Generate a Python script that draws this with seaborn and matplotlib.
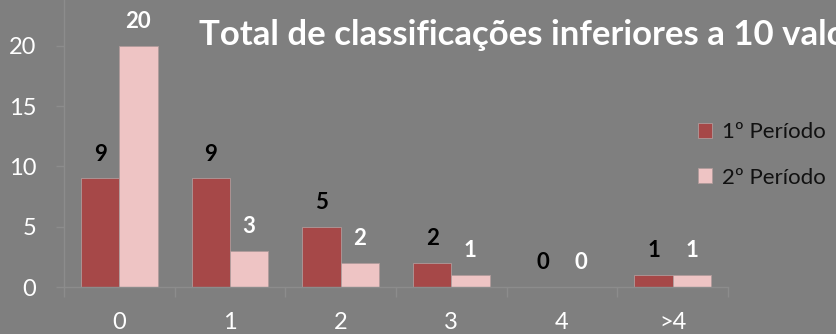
import matplotlib
matplotlib.use("Agg")
import matplotlib.pyplot as plt
import seaborn as sns
import pandas as pd
from matplotlib.ticker import FixedLocator

# Data
categorias = ["0", "1", "2", "3", "4", ">4"]
periodo_1 = [9, 9, 5, 2, 0, 1]
periodo_2 = [20, 3, 2, 1, 0, 1]
series = ["1º Período", "2º Período"]
titulo = "Total de classificações inferiores a 10 valores"

BG = "#7f7f7f"
RED = "#a64848"
PINK = "#eec4c4"
AXIS = "#8c8c8c"

df = pd.DataFrame({
    "categoria": categorias * 2,
    "valor": periodo_1 + periodo_2,
    "periodo": [series[0]] * len(categorias) + [series[1]] * len(categorias),
})

sns.set_theme(style="white")
plt.rcParams["font.family"] = ["Lato", "DejaVu Sans"]

fig = plt.figure(figsize=(8.37, 3.34), dpi=100, facecolor=BG)
ax = fig.add_axes([64 / 837, 47 / 334, 664 / 837, 287 / 334])
ax.set_facecolor(BG)

sns.barplot(data=df, x="categoria", y="valor", hue="periodo", order=categorias,
            hue_order=series, palette=[RED, PINK], width=0.69, saturation=1,
            edgecolor="#b09a9a", linewidth=0.6, ax=ax)

ax.set_xlim(-0.5, len(categorias) - 0.5)
ax.set_ylim(0, 23.79)
ax.set_yticks([0, 5, 10, 15, 20])
ax.set_xlabel("")
ax.set_ylabel("")

# value labels above each bar
label_colors = ["black", "white"]
for cont, col in zip(ax.containers, label_colors):
    ax.bar_label(cont, labels=[f"{int(v)}" for v in cont.datavalues],
                 padding=10, color=col, fontsize=16, fontweight="bold")

# spines and ticks
for s in ["top", "right"]:
    ax.spines[s].set_visible(False)
for s in ["left", "bottom"]:
    ax.spines[s].set_color(AXIS)
    ax.spines[s].set_linewidth(1)

ax.tick_params(axis="y", which="major", length=6, width=1, color=AXIS,
               labelcolor="white", labelsize=17, pad=14, left=True)
ax.tick_params(axis="x", which="major", length=0, labelcolor="white",
               labelsize=17, pad=18, bottom=True)
ax.xaxis.set_minor_locator(FixedLocator([i - 0.5 for i in range(len(categorias) + 1)]))
ax.tick_params(axis="x", which="minor", length=7, width=1, color=AXIS, bottom=True)

# legend
leg = ax.legend(loc="upper left", bbox_to_anchor=(698 / 837, 1 - 122 / 334),
                bbox_transform=fig.transFigure, frameon=False, fontsize=16,
                handlelength=0.65, handleheight=0.65, handletextpad=0.45,
                labelspacing=1.15, borderaxespad=0, borderpad=0)
for t in leg.get_texts():
    t.set_color("#111111")

fig.text(199 / 837, 1 - 35 / 334, titulo, color="white", fontsize=25,
         fontweight="bold", ha="left", va="center")

fig.savefig("out.png", dpi=100, facecolor=BG)
